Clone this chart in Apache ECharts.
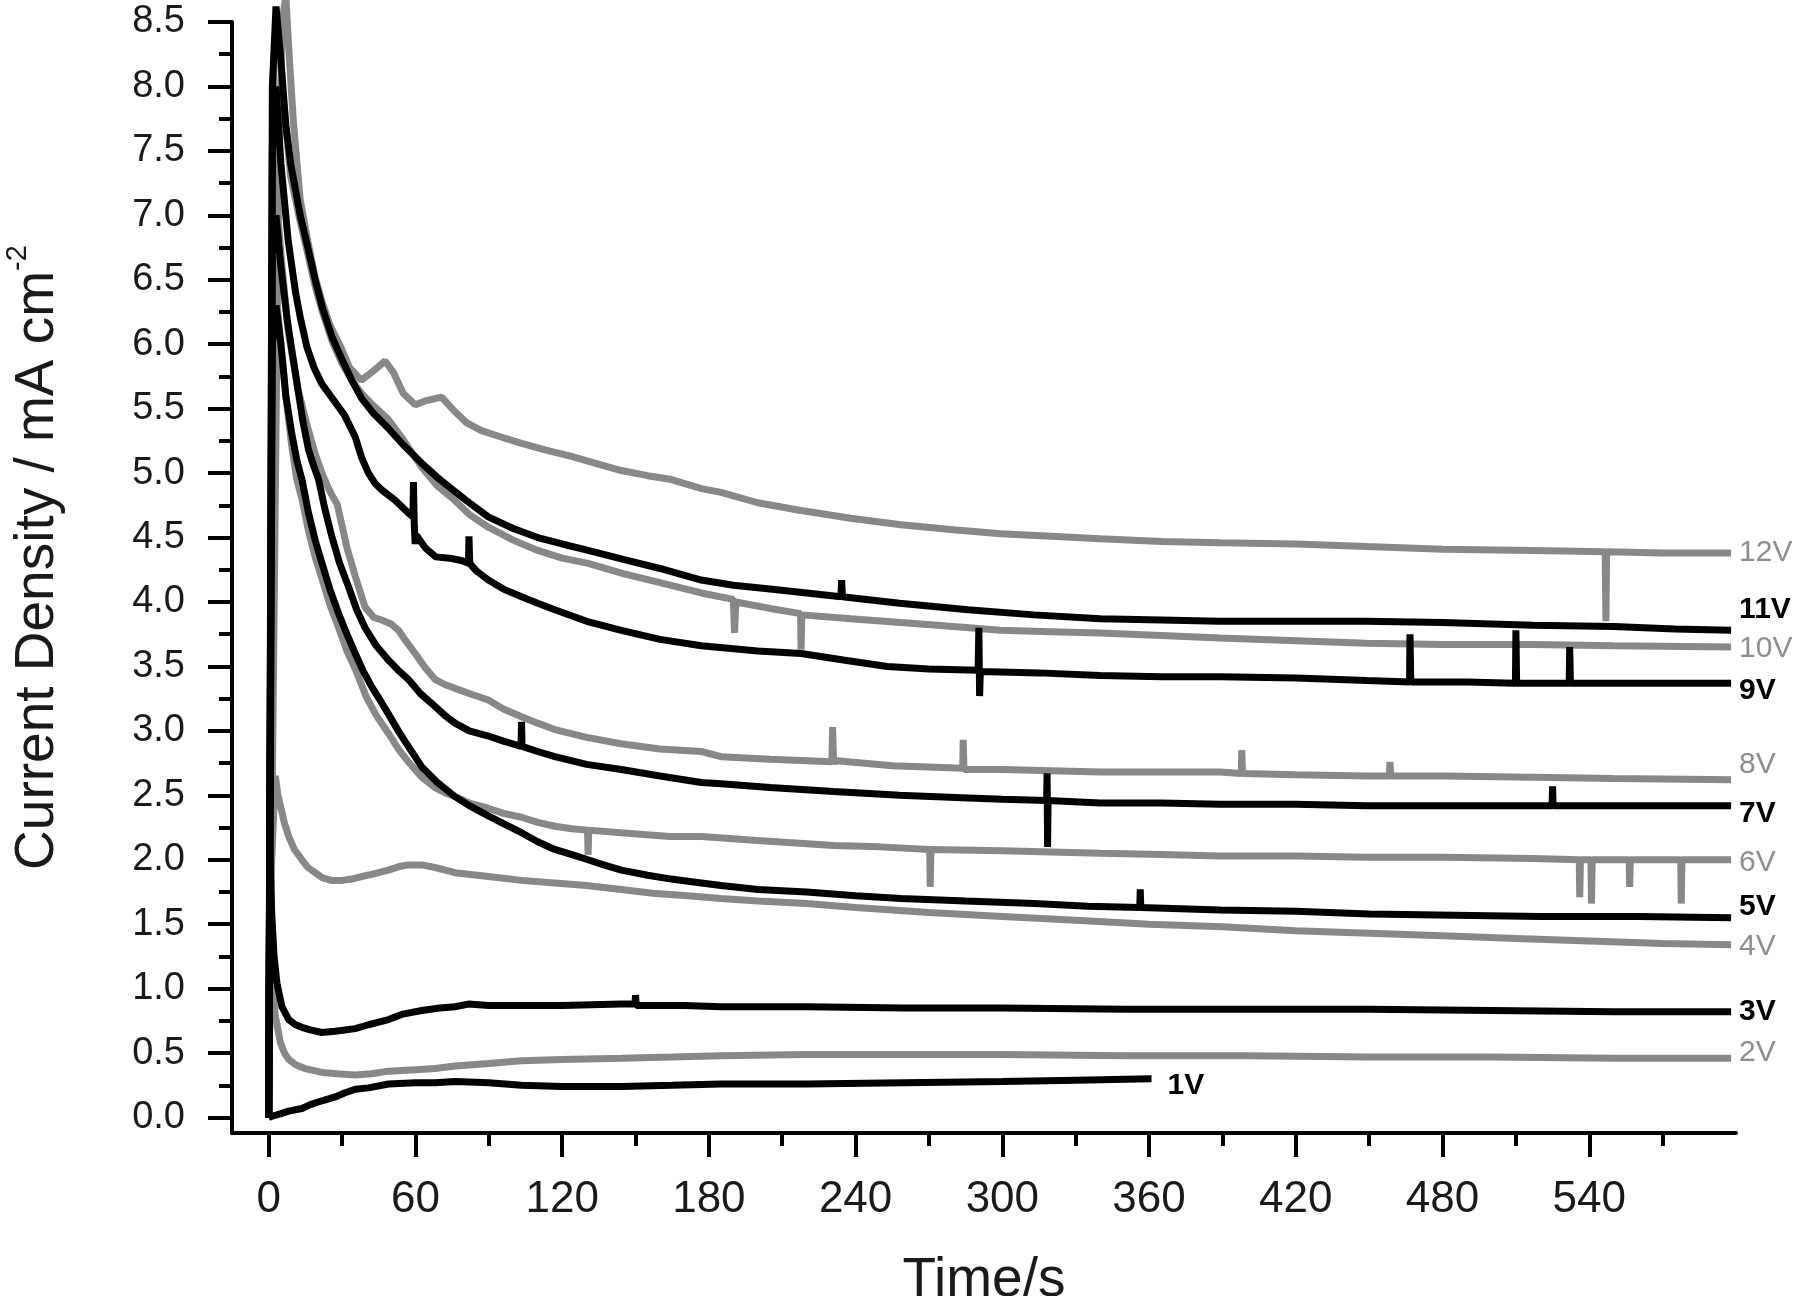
<!DOCTYPE html>
<html>
<head>
<meta charset="utf-8">
<script src="https://cdn.jsdelivr.net/npm/echarts@6/dist/echarts.min.js"></script>
<style>
html,body{margin:0;padding:0;background:#ffffff;}
#chart{width:1800px;height:1296px;}
</style>
</head>
<body>
<div id="chart"></div>
<script>
// ---------- tick values ----------
const xMajorTicks = [0, 60, 120, 180, 240, 300, 360, 420, 480, 540];
const xMinorTicks = [30, 90, 150, 210, 270, 330, 390, 450, 510, 570];
const yMajorTicks = [0, 0.5, 1, 1.5, 2, 2.5, 3, 3.5, 4, 4.5, 5, 5.5, 6, 6.5, 7, 7.5, 8, 8.5];
const yMinorTicks = [0.25, 0.75, 1.25, 1.75, 2.25, 2.75, 3.25, 3.75, 4.25, 4.75, 5.25, 5.75, 6.25, 6.75, 7.25, 7.75, 8.25];

// ---------- series data: [time (s), current density (mA cm^-2)] ----------
const v12 = [[0,0],[2,3.5],[4,7.2],[5.5,8.5],[7,8.7],[8.5,8.2],[10.2,7.7],[12.9,7.12],[16,6.8],[19,6.52],[21.8,6.33],[25,6.15],[29.9,5.96],[33,5.82],[37.9,5.72],[42,5.78],[47.6,5.87],[51,5.78],[55,5.62],[59.9,5.53],[64,5.56],[70.7,5.59],[76,5.48],[81,5.39],[87,5.33],[95,5.28],[103.4,5.23],[113,5.18],[123.8,5.13],[133,5.08],[144.2,5.02],[155,4.98],[164.7,4.95],[177,4.88],[185,4.85],[200,4.77],[217.7,4.71],[238,4.65],[258.5,4.6],[280,4.56],[299.3,4.53],[320,4.51],[340,4.49],[365,4.47],[389,4.46],[420,4.45],[449,4.43],[480,4.41],[517,4.40],[546.5,4.39],[546.8,3.85],[547.1,4.39],[570,4.38],[598,4.38]];
const v11 = [[0,0],[1.5,8.0],[3,8.62],[5,8.2],[7,7.7],[9,7.4],[12.9,7.0],[16,6.75],[19,6.5],[22,6.28],[26,6.05],[30,5.88],[34,5.72],[38,5.58],[43,5.46],[48.8,5.35],[55,5.22],[62.4,5.08],[70,4.95],[76,4.86],[82,4.77],[89.8,4.66],[100,4.57],[110,4.5],[120,4.45],[130.6,4.40],[145,4.33],[160,4.26],[176.9,4.17],[190,4.13],[205,4.1],[220,4.07],[234,4.04],[234.3,4.17],[234.6,4.04],[258,3.99],[286,3.94],[313,3.9],[340,3.87],[365,3.86],[389,3.85],[420,3.85],[449,3.85],[480,3.84],[517,3.82],[550,3.81],[575,3.79],[598,3.78]];
const v10 = [[0,0],[2,8.2],[4,8.45],[6,7.9],[9,7.3],[12.9,6.95],[16,6.7],[19,6.45],[22,6.25],[26,6.02],[30,5.85],[34,5.72],[37.9,5.62],[43,5.52],[48.8,5.42],[55,5.26],[62.4,5.05],[69,4.9],[76,4.79],[82,4.68],[89.8,4.58],[100,4.48],[110,4.4],[120,4.34],[130.6,4.30],[145,4.22],[160,4.15],[176.9,4.07],[190,4.02],[190.5,3.76],[191,4.0],[205,3.95],[217.5,3.91],[217.7,3.63],[218,3.9],[238,3.87],[258.5,3.84],[280,3.81],[299,3.78],[320,3.77],[340,3.76],[365,3.74],[389,3.72],[420,3.7],[449,3.68],[480,3.67],[517,3.67],[550,3.66],[598,3.65]];
const v9 = [[0,0],[1.5,7.5],[3,8.0],[5,7.4],[8,6.8],[11,6.4],[13,6.2],[15.6,5.98],[18.5,5.82],[21.8,5.69],[27.2,5.55],[31,5.45],[35.4,5.28],[38,5.12],[40.8,5.0],[43.5,4.92],[46.2,4.87],[51.7,4.79],[57.1,4.69],[59.0,4.66],[59.2,4.93],[59.5,4.62],[59.9,4.45],[60.3,4.52],[64,4.42],[68.3,4.35],[74,4.34],[79.2,4.32],[81.7,4.30],[81.9,4.51],[82.2,4.30],[85,4.24],[89.8,4.17],[96,4.10],[103.4,4.04],[110,3.99],[117,3.94],[130,3.85],[144.2,3.78],[160,3.71],[176.9,3.66],[200,3.62],[217.7,3.60],[235,3.55],[252.9,3.50],[270,3.48],[290.1,3.47],[290.4,3.80],[290.7,3.27],[291,3.46],[315,3.45],[340,3.43],[365,3.42],[389,3.42],[420,3.41],[449,3.39],[466.5,3.38],[466.7,3.75],[467,3.38],[490,3.38],[509.8,3.37],[510,3.78],[510.3,3.37],[531.8,3.37],[532,3.65],[532.3,3.37],[560,3.37],[598,3.37]];
const v8 = [[0,0],[1.5,6.8],[3,7.2],[5,6.7],[8,6.1],[12,5.65],[16,5.35],[19,5.15],[21.8,5.0],[24,4.9],[25.8,4.83],[28,4.76],[29.9,4.6],[32,4.42],[35.4,4.2],[39.4,3.96],[43,3.88],[46.2,3.86],[50,3.83],[53.1,3.78],[56,3.7],[59.9,3.60],[64,3.49],[68,3.40],[72,3.36],[76.2,3.33],[82,3.29],[89.8,3.24],[96,3.17],[103.4,3.11],[110,3.06],[117,3.01],[130,2.95],[144,2.90],[160,2.86],[176.9,2.84],[185,2.80],[205,2.78],[230.3,2.76],[230.6,3.03],[231,2.74],[231.3,2.77],[255,2.73],[283.8,2.71],[284,2.93],[284.3,2.70],[300,2.70],[320,2.69],[340,2.68],[365,2.68],[389,2.68],[397.7,2.67],[397.9,2.85],[398.2,2.67],[420,2.66],[449,2.65],[458.3,2.65],[458.5,2.76],[458.8,2.65],[480,2.65],[517,2.64],[550,2.63],[598,2.62]];
const v7 = [[0,0],[1.5,6.8],[3,7.0],[5,6.6],[7.5,6.2],[9.5,5.95],[12.2,5.62],[14,5.4],[16.3,5.18],[18.5,5.05],[20.4,4.95],[23,4.72],[25.8,4.51],[29,4.3],[32.6,4.12],[36,3.94],[39.4,3.80],[44,3.66],[48.9,3.55],[53,3.47],[57.1,3.40],[62,3.29],[68,3.19],[72,3.12],[76.2,3.06],[82,3.0],[89.8,2.96],[96,2.92],[103.2,2.88],[103.4,3.07],[103.6,2.88],[110,2.84],[117,2.80],[130,2.74],[144.2,2.70],[160,2.65],[176.9,2.60],[185,2.59],[205,2.56],[231,2.53],[258,2.50],[286,2.48],[300,2.47],[318.1,2.46],[318.3,2.67],[318.5,2.10],[318.7,2.46],[340,2.44],[365,2.44],[389,2.43],[420,2.43],[449,2.42],[480,2.42],[524.8,2.42],[525,2.57],[525.2,2.42],[560,2.42],[598,2.42]];
const v6 = [[0,0],[1.5,6.1],[3,6.4],[5,6.0],[7,5.6],[9.5,5.2],[11.5,4.95],[13.6,4.8],[16.3,4.55],[19,4.35],[21.8,4.18],[25,3.98],[28.6,3.8],[32,3.62],[35.4,3.48],[40,3.26],[44,3.12],[49,2.98],[53,2.86],[57.1,2.76],[62.6,2.64],[68,2.56],[72,2.52],[76.2,2.49],[82,2.44],[89.8,2.40],[96,2.36],[103.4,2.33],[110,2.29],[117,2.26],[124,2.24],[130.4,2.23],[130.6,2.04],[130.9,2.23],[144,2.21],[164,2.18],[176.9,2.18],[200,2.15],[231,2.11],[250,2.10],[270.3,2.08],[270.5,1.79],[270.8,2.08],[300,2.07],[340,2.05],[365,2.04],[389,2.03],[420,2.03],[449,2.02],[480,2.02],[517,2.01],[535.9,2.0],[536.1,1.71],[536.4,2.0],[540.7,2.0],[540.9,1.66],[541.2,2.0],[556.3,2.0],[556.5,1.79],[556.8,2.0],[577.4,2.0],[577.6,1.66],[577.9,2.0],[598,2.0]];
const v5 = [[0,0],[1.5,6.0],[3,6.3],[5,6.0],[7,5.6],[9.5,5.3],[11.5,5.1],[13.6,4.95],[16.3,4.69],[19,4.48],[21.8,4.30],[25,4.1],[28.6,3.91],[32,3.75],[35.4,3.60],[38.5,3.47],[42.2,3.34],[45.5,3.24],[49,3.13],[53,3.0],[57.1,2.88],[62.6,2.72],[69,2.6],[76.2,2.49],[82,2.42],[89.8,2.34],[96,2.28],[103.4,2.21],[110,2.14],[117,2.08],[124,2.04],[130.6,2.0],[137,1.96],[144.2,1.92],[155,1.88],[164.6,1.85],[176.9,1.82],[185,1.80],[200,1.77],[220,1.75],[240,1.72],[258.5,1.70],[285,1.68],[313,1.66],[335,1.64],[356.2,1.63],[356.4,1.77],[356.6,1.63],[389,1.61],[420,1.6],[450,1.58],[485,1.57],[520,1.56],[560,1.56],[598,1.55]];
const v4 = [[0,0],[1,1.9],[2.7,2.65],[3.8,2.5],[4.9,2.41],[6.5,2.28],[8.2,2.18],[10.5,2.08],[13.6,2.0],[16,1.94],[19,1.90],[22,1.86],[25.8,1.84],[30,1.84],[34,1.85],[38.1,1.87],[43,1.89],[48.9,1.92],[54,1.95],[57,1.96],[62.6,1.96],[68,1.94],[76.2,1.90],[89.8,1.87],[103.4,1.84],[117,1.82],[130,1.80],[144.2,1.77],[157,1.74],[171.4,1.72],[185,1.70],[200,1.68],[220,1.66],[240,1.63],[270,1.59],[300,1.56],[330,1.53],[360,1.50],[390,1.48],[420,1.45],[450,1.43],[480,1.41],[510,1.39],[540,1.37],[570,1.35],[598,1.34]];
const v3 = [[0,0],[0.4,2.1],[1.2,1.6],[2.2,1.25],[3.4,1.04],[5.4,0.86],[8.2,0.76],[11,0.72],[13.6,0.70],[17,0.68],[21.8,0.66],[27.2,0.67],[35.4,0.69],[40.8,0.72],[45,0.74],[49,0.76],[54.4,0.80],[62.6,0.83],[70,0.85],[76.2,0.86],[81.6,0.88],[90,0.87],[103.4,0.87],[120,0.87],[144.2,0.88],[149.8,0.88],[150,0.95],[150.3,0.87],[170,0.87],[185,0.86],[220,0.86],[260,0.85],[300,0.85],[350,0.84],[400,0.84],[450,0.84],[500,0.83],[550,0.82],[598,0.82]];
const v2 = [[0,0],[0.5,1.25],[1.5,1.05],[2.7,0.79],[4,0.66],[4.8,0.58],[6.5,0.5],[8.2,0.45],[11,0.41],[14.9,0.38],[21.8,0.35],[28,0.34],[35.4,0.33],[42,0.34],[49,0.36],[60,0.37],[68,0.38],[76.2,0.40],[90,0.42],[103.4,0.44],[120,0.45],[144.2,0.46],[165,0.47],[185,0.48],[220,0.49],[260,0.49],[300,0.49],[350,0.48],[400,0.48],[450,0.47],[500,0.47],[550,0.46],[598,0.46]];
const v1 = [[0,0],[1.4,0.01],[5,0.03],[8.2,0.05],[13.6,0.07],[17,0.1],[21.8,0.13],[27.2,0.16],[31,0.19],[35.4,0.22],[40.8,0.23],[49,0.26],[60,0.27],[68,0.27],[76.2,0.28],[90,0.27],[103.4,0.25],[120,0.24],[144.2,0.24],[165,0.25],[185,0.26],[220,0.26],[260,0.27],[300,0.28],[330,0.29],[361,0.30]];

const FONT = '"Liberation Sans", Arial, Helvetica, sans-serif';
const GRAY = '#888888';
const GRAY_LABEL = '#8e8e8e';
const BLACK = '#000000';

function curve(name, data, isBlack, dy, dist) {
  return {
    type: 'line',
    name: name,
    data: data,
    xAxisIndex: 0,
    yAxisIndex: 0,
    symbol: 'none',
    showSymbol: false,
    clip: false,
    silent: true,
    smooth: false,
    lineStyle: { color: isBlack ? BLACK : GRAY, width: 7 },
    endLabel: {
      show: true,
      formatter: name,
      color: isBlack ? BLACK : GRAY_LABEL,
      fontSize: 30,
      fontWeight: isBlack ? 'bold' : 'normal',
      fontFamily: FONT,
      distance: dist,
      offset: [0, dy]
    }
  };
}

const chart = echarts.init(document.getElementById('chart'), null, { renderer: 'canvas' });
chart.setOption({
  animation: false,
  backgroundColor: '#ffffff',
  grid: { left: 232, right: 64, top: 22, bottom: 163, containLabel: false, outerBoundsMode: 'none' },
  xAxis: [
    {
      type: 'value', min: -15, max: 600, position: 'bottom',
      axisLine: { show: true, onZero: false, lineStyle: { color: '#000', width: 4 } },
      axisTick: { show: true, inside: false, length: 24, customValues: xMajorTicks, lineStyle: { color: '#000', width: 4 } },
      axisLabel: { show: true, customValues: xMajorTicks, fontSize: 44, margin: 45, color: '#1a1a1a', fontFamily: FONT },
      splitLine: { show: false },
      name: 'Time/s', nameLocation: 'middle', nameGap: 120,
      nameTextStyle: { fontSize: 55, color: '#1a1a1a', fontFamily: FONT }
    },
    {
      type: 'value', min: -15, max: 600, position: 'bottom',
      axisLine: { show: false, onZero: false },
      axisTick: { show: true, inside: false, length: 13, customValues: xMinorTicks, lineStyle: { color: '#000', width: 4 } },
      axisLabel: { show: false },
      splitLine: { show: false }
    }
  ],
  yAxis: [
    {
      type: 'value', min: -0.12, max: 8.5, position: 'left',
      axisLine: { show: true, onZero: false, lineStyle: { color: '#000', width: 4 } },
      axisTick: { show: true, inside: false, length: 24, customValues: yMajorTicks, lineStyle: { color: '#000', width: 4 } },
      axisLabel: { show: true, customValues: yMajorTicks, formatter: function (v) { return v.toFixed(1); }, fontSize: 38, margin: 47, color: '#1a1a1a', fontFamily: FONT },
      splitLine: { show: false },
      name: '{a|Current Density / mA cm}{b|-2}',
      nameLocation: 'middle', nameRotate: 90, nameGap: 167,
      nameTextStyle: {
        rich: {
          a: { fontSize: 55, color: '#1a1a1a', fontFamily: FONT, padding: [0, 0, 0, 40], lineHeight: 62, verticalAlign: 'bottom' },
          b: { fontSize: 29, color: '#1a1a1a', fontFamily: FONT, lineHeight: 29, verticalAlign: 'top' }
        }
      }
    },
    {
      type: 'value', min: -0.12, max: 8.5, position: 'left',
      axisLine: { show: false, onZero: false },
      axisTick: { show: true, inside: false, length: 13, customValues: yMinorTicks, lineStyle: { color: '#000', width: 4 } },
      axisLabel: { show: false },
      splitLine: { show: false }
    }
  ],
  series: [
    curve('12V', v12, false, 0, 8),
    curve('10V', v10, false, 2, 8),
    curve('8V', v8, false, -15, 8),
    curve('6V', v6, false, 3, 8),
    curve('4V', v4, false, 2, 8),
    curve('2V', v2, false, -6, 8),
    curve('11V', v11, true, -21, 8),
    curve('9V', v9, true, 8, 8),
    curve('7V', v7, true, 8, 8),
    curve('5V', v5, true, -11, 8),
    curve('3V', v3, true, 0, 8),
    curve('1V', v1, true, 7, 16)
  ]
});
</script>
</body>
</html>
